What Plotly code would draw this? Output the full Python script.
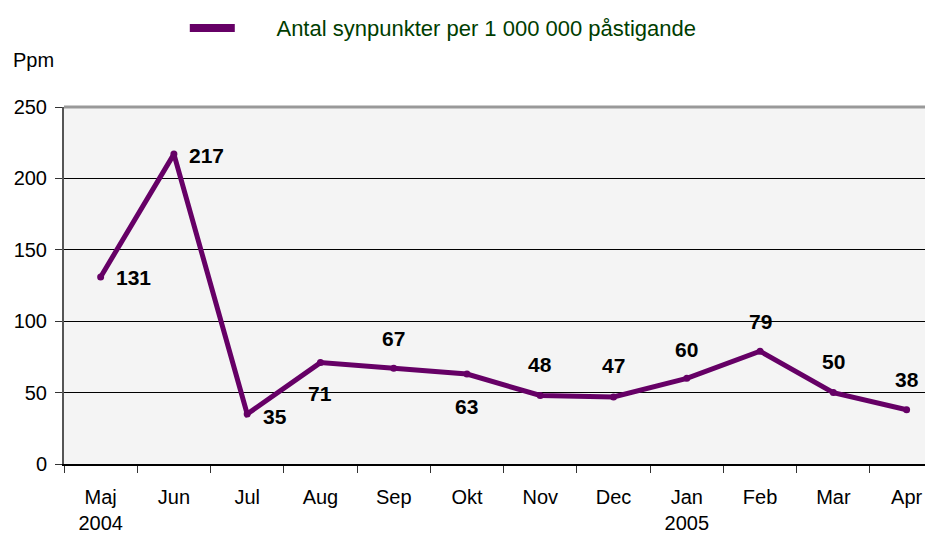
import plotly.graph_objects as go

months = ["Maj<br>2004", "Jun", "Jul", "Aug", "Sep", "Okt", "Nov", "Dec", "Jan<br>2005", "Feb", "Mar", "Apr"]
values = [131, 217, 35, 71, 67, 63, 48, 47, 60, 79, 50, 38]
series_name = "Antal synpunkter per 1 000 000 påstigande"
y_ticks = [0, 50, 100, 150, 200, 250]

# label offsets (px) relative to the point
label_dx = [33, 33, 28, 0, 0, 0, 0, 0, 0, 0, 0, 0]
label_dy = [-1, -1, -2, -31, 30, -32, 31, 31, 29, 30, 31, 30]

purple = "#660066"
font = "Liberation Sans, Arial, sans-serif"

fig = go.Figure()
fig.add_trace(go.Scatter(
    x=months, y=values, mode="lines+markers", name=series_name, showlegend=False,
    line=dict(color=purple, width=5), marker=dict(color=purple, size=7),
))
# legend entry (swatch only)
fig.add_trace(go.Scatter(
    x=[None], y=[None], mode="lines", name="&nbsp;" * 6 + series_name, showlegend=True,
    line=dict(color=purple, width=8),
))

for m, v, dx, dy in zip(months, values, label_dx, label_dy):
    fig.add_annotation(x=m, y=v, text=f"<b>{v}</b>", showarrow=False,
                       xshift=dx, yshift=dy, font=dict(size=21, color="black", family=font))

# page has an 8px body margin, so the figure is 925x529 placed at (8, 8)
fig.update_layout(
    width=925, height=529,
    margin=dict(l=56, r=0, t=99, b=73, autoexpand=False),
    paper_bgcolor="white", plot_bgcolor="#f4f4f4",
    font=dict(family=font, color="black", size=20),
    showlegend=True,
    legend=dict(orientation="h", x=0.139, y=1.221, xanchor="left", yanchor="middle",
                font=dict(size=22, color="#003d00", family=font), itemwidth=45,
                bgcolor="rgba(0,0,0,0)"),
    xaxis=dict(type="category", range=[-0.5, 11.36], tickson="boundaries",
               ticks="outside", ticklen=7, tickcolor="#333", showgrid=False,
               showline=True, linecolor="black", linewidth=2,
               tickfont=dict(size=20), ticklabelstandoff=14),
    yaxis=dict(range=[0, 250], tickvals=y_ticks, ticks="outside", ticklen=7,
               tickcolor="#333", showgrid=True, gridcolor="black", gridwidth=1,
               showline=True, linecolor="#555", linewidth=2, zeroline=False,
               tickfont=dict(size=20), ticklabelstandoff=4),
    shapes=[dict(type="line", xref="paper", yref="paper", x0=0, x1=1, y0=1, y1=1,
                 line=dict(color="#999999", width=3))],
)
fig.add_annotation(text="Ppm", xref="paper", yref="paper", x=-0.061, y=1.131,
                   xanchor="left", yanchor="middle", showarrow=False, font=dict(size=20))

fig.write_html("out.html")
